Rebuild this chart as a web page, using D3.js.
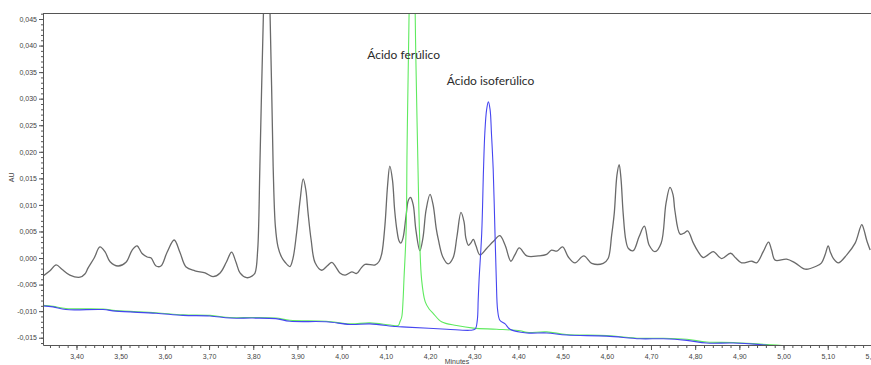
<!DOCTYPE html>
<html>
<head>
<meta charset="utf-8">
<script src="https://cdn.jsdelivr.net/npm/d3@7"></script>
<style>
  body { margin: 0; background: #fff; }
  svg { display: block; }
</style>
</head>
<body>
<div id="chart"></div>
<script>
// muestra (negro), patrón ácido ferúlico (verde), patrón ácido isoferúlico (azul)
// [minutos, AU]
const muestra = [
  [3.324, -0.0034], [3.340, -0.0024], [3.354, -0.0013], [3.367, -0.0021], [3.385, -0.0032],
  [3.408, -0.0036], [3.419, -0.0030], [3.426, -0.0019], [3.440, 0.0000], [3.453, 0.0021],
  [3.465, 0.0011], [3.476, -0.0007], [3.494, -0.0015], [3.512, -0.0008], [3.526, 0.0015],
  [3.537, 0.0023], [3.548, 0.0009], [3.560, 0.0002], [3.569, 0.0000], [3.580, -0.0015],
  [3.591, -0.0015], [3.605, 0.0011], [3.621, 0.0034], [3.634, 0.0011], [3.648, -0.0017],
  [3.668, -0.0024], [3.691, -0.0028], [3.709, -0.0035], [3.725, -0.0028], [3.739, -0.0008],
  [3.751, 0.0011], [3.761, -0.0008], [3.770, -0.0028], [3.785, -0.0037], [3.797, -0.0034],
  [3.804, -0.0028], [3.810, 0.0015], [3.815, 0.0173], [3.823, 0.0460], [3.830, 0.0620],
  [3.838, 0.0460], [3.845, 0.0173], [3.850, 0.0060], [3.856, 0.0021], [3.864, 0.0002],
  [3.872, -0.0008], [3.883, -0.0016], [3.890, 0.0000], [3.898, 0.0047], [3.906, 0.0109],
  [3.913, 0.0149], [3.919, 0.0128], [3.924, 0.0085], [3.931, 0.0034], [3.940, -0.0009],
  [3.955, -0.0023], [3.967, -0.0015], [3.978, -0.0008], [3.987, -0.0017], [3.996, -0.0028],
  [4.008, -0.0032], [4.023, -0.0026], [4.034, -0.0029], [4.044, -0.0019], [4.053, -0.0012],
  [4.076, -0.0013], [4.085, -0.0006], [4.091, 0.0009], [4.098, 0.0062], [4.104, 0.0137],
  [4.109, 0.0173], [4.115, 0.0147], [4.120, 0.0090], [4.125, 0.0053], [4.130, 0.0032],
  [4.134, 0.0028], [4.139, 0.0038], [4.146, 0.0081], [4.151, 0.0109], [4.156, 0.0114],
  [4.162, 0.0100], [4.168, 0.0053], [4.177, 0.0014], [4.184, 0.0038], [4.191, 0.0090],
  [4.200, 0.0120], [4.207, 0.0100], [4.214, 0.0056], [4.219, 0.0034], [4.229, 0.0002],
  [4.241, -0.0011], [4.252, 0.0000], [4.261, 0.0041], [4.270, 0.0086], [4.277, 0.0068],
  [4.281, 0.0038], [4.287, 0.0024], [4.292, 0.0028], [4.298, 0.0035], [4.304, 0.0023],
  [4.313, 0.0006], [4.328, 0.0018], [4.343, 0.0031], [4.358, 0.0042], [4.370, 0.0024],
  [4.383, -0.0006], [4.392, 0.0006], [4.402, 0.0019], [4.419, 0.0004], [4.445, 0.0004],
  [4.464, 0.0007], [4.475, 0.0015], [4.487, 0.0013], [4.500, 0.0021], [4.513, 0.0002],
  [4.528, -0.0009], [4.548, 0.0004], [4.566, -0.0010], [4.592, -0.0010], [4.603, -0.0001],
  [4.611, 0.0043], [4.617, 0.0085], [4.623, 0.0156], [4.628, 0.0176], [4.632, 0.0151],
  [4.637, 0.0085], [4.643, 0.0034], [4.649, 0.0018], [4.660, 0.0014], [4.673, 0.0040],
  [4.685, 0.0060], [4.696, 0.0024], [4.709, 0.0012], [4.723, 0.0028], [4.734, 0.0103],
  [4.743, 0.0133], [4.750, 0.0119], [4.754, 0.0090], [4.766, 0.0045], [4.775, 0.0047],
  [4.783, 0.0051], [4.796, 0.0028], [4.806, 0.0013], [4.818, 0.0001], [4.829, 0.0006],
  [4.841, 0.0012], [4.860, -0.0001], [4.880, 0.0009], [4.892, 0.0000], [4.905, -0.0009],
  [4.928, -0.0006], [4.939, -0.0009], [4.954, 0.0012], [4.966, 0.0030], [4.973, 0.0015],
  [4.981, -0.0004], [5.007, -0.0002], [5.026, -0.0009], [5.049, -0.0021], [5.075, -0.0015],
  [5.086, -0.0009], [5.094, 0.0006], [5.101, 0.0023], [5.106, 0.0011], [5.113, -0.0001],
  [5.124, -0.0009], [5.143, 0.0006], [5.162, 0.0028], [5.177, 0.0063], [5.182, 0.0053],
  [5.188, 0.0034], [5.196, 0.0015]
]

const ferulico = [
  [3.324, -0.0089], [3.347, -0.0091], [3.376, -0.0095], [3.460, -0.0096], [3.489, -0.0099],
  [3.580, -0.0103], [3.641, -0.0107], [3.702, -0.0108], [3.747, -0.0112], [3.799, -0.0112],
  [3.851, -0.0113], [3.883, -0.0117], [3.965, -0.0119], [4.019, -0.0124], [4.064, -0.0122],
  [4.110, -0.0126], [4.128, -0.0127], [4.132, -0.0120], [4.136, -0.0111], [4.139, -0.0079],
  [4.141, -0.0041], [4.146, 0.0053], [4.148, 0.0203], [4.151, 0.0373], [4.160, 0.0750],
  [4.168, 0.0373], [4.172, 0.0203], [4.176, 0.0053], [4.181, -0.0041], [4.189, -0.0082],
  [4.198, -0.0096], [4.207, -0.0104], [4.226, -0.0120], [4.260, -0.0127], [4.298, -0.0132],
  [4.351, -0.0134], [4.404, -0.0137], [4.419, -0.0140], [4.464, -0.0139], [4.509, -0.0144],
  [4.600, -0.0146], [4.675, -0.0151], [4.728, -0.0151], [4.781, -0.0153], [4.826, -0.0158],
  [4.886, -0.0159], [4.947, -0.0162], [4.985, -0.0164], [5.015, -0.0166]
]

const isoferulico = [
  [3.324, -0.0090], [3.347, -0.0092], [3.376, -0.0097], [3.460, -0.0097], [3.489, -0.0100],
  [3.580, -0.0104], [3.641, -0.0108], [3.702, -0.0109], [3.747, -0.0113], [3.799, -0.0113],
  [3.851, -0.0114], [3.883, -0.0119], [3.965, -0.0120], [4.019, -0.0125], [4.064, -0.0124],
  [4.123, -0.0129], [4.147, -0.0130], [4.238, -0.0134], [4.290, -0.0136], [4.302, -0.0134],
  [4.307, -0.0117], [4.309, -0.0079], [4.311, -0.0041], [4.317, 0.0047], [4.321, 0.0166],
  [4.324, 0.0235], [4.328, 0.0279], [4.332, 0.0294], [4.336, 0.0279], [4.339, 0.0235],
  [4.343, 0.0166], [4.347, 0.0047], [4.350, -0.0041], [4.353, -0.0098], [4.358, -0.0117],
  [4.370, -0.0124], [4.381, -0.0134], [4.419, -0.0141], [4.464, -0.0141], [4.509, -0.0145],
  [4.600, -0.0147], [4.675, -0.0152], [4.728, -0.0152], [4.781, -0.0155], [4.826, -0.0160],
  [4.886, -0.0160], [4.947, -0.0163], [4.981, -0.0166]
]

const xTicks = d3.range(3.4, 5.2001, 0.1)
const xMinorTicks = d3.range(3.34, 5.2001, 0.02)
const yTicks = d3.range(-0.015, 0.04501, 0.005)
const yMinorTicks = d3.range(-0.016, 0.04601, 0.001)

const labels = [
  { text: 'Ácido ferúlico', t: 4.058, v: 0.0374 },
  { text: 'Ácido isoferúlico', t: 4.238, v: 0.0325 }
]

const width = 871
const height = 365
const margin = { top: 13, right: 0, bottom: 20, left: 43 }

const locale = d3.formatLocale({ decimal: ',', thousands: '.', grouping: [3], currency: ['', ''], minus: '-' })
const fmt3 = locale.format('.3f')
const fmt2 = locale.format('.2f')

const x = d3.scaleLinear()
  .domain([3.3242, 5.1979])
  .range([margin.left, width - margin.right])

const y = d3.scaleLinear()
  .domain([-0.01637, 0.04613])
  .range([height - margin.bottom, margin.top])

const svg = d3.select('#chart')
  .append('svg')
  .attr('width', width)
  .attr('height', height)

svg.append('defs').append('clipPath')
  .attr('id', 'plot-clip')
  .append('rect')
  .attr('x', margin.left)
  .attr('y', margin.top)
  .attr('width', width - margin.left - margin.right)
  .attr('height', height - margin.top - margin.bottom)

const line = d3.line()
  .x(d => x(d[0]))
  .y(d => y(d[1]))
  .curve(d3.curveCatmullRom.alpha(0.5))

const traces = svg.append('g').attr('clip-path', 'url(#plot-clip)').attr('fill', 'none')

traces.append('path')
  .datum(muestra)
  .attr('d', line)
  .attr('stroke', '#6a6a6a')
  .attr('stroke-width', 1.3)

traces.append('path')
  .datum(ferulico)
  .attr('d', line)
  .attr('stroke', '#5fea5f')
  .attr('stroke-width', 1.1)

traces.append('path')
  .datum(isoferulico)
  .attr('d', line)
  .attr('stroke', '#4646f0')
  .attr('stroke-width', 1.1)

// top frame line
svg.append('line')
  .attr('x1', margin.left)
  .attr('x2', width)
  .attr('y1', margin.top + 0.5)
  .attr('y2', margin.top + 0.5)
  .attr('stroke', '#555')

const styleAxis = g => {
  g.select('.domain').attr('stroke', '#555')
  g.selectAll('.tick line').attr('stroke', '#555')
  g.selectAll('.tick text')
    .attr('fill', '#444')
    .style('font-family', '"Liberation Sans", Arial, sans-serif')
    .style('font-size', '7px')
}

svg.append('g')
  .attr('transform', `translate(0, ${height - margin.bottom})`)
  .call(d3.axisBottom(x).tickValues(xMinorTicks).tickSize(3).tickFormat(''))
  .call(g => g.select('.domain').remove())
  .call(styleAxis)

svg.append('g')
  .attr('transform', `translate(0, ${height - margin.bottom})`)
  .call(d3.axisBottom(x).tickValues(xTicks).tickSize(5).tickSizeOuter(0).tickPadding(4).tickFormat(fmt2))
  .call(styleAxis)

svg.append('g')
  .attr('transform', `translate(${margin.left}, 0)`)
  .call(d3.axisLeft(y).tickValues(yMinorTicks).tickSize(2).tickFormat(''))
  .call(g => g.select('.domain').remove())
  .call(styleAxis)

svg.append('g')
  .attr('transform', `translate(${margin.left}, 0)`)
  .call(d3.axisLeft(y).tickValues(yTicks).tickSize(4).tickSizeOuter(0).tickPadding(2).tickFormat(fmt3))
  .call(styleAxis)

svg.append('text')
  .attr('transform', `translate(14, ${y(0.0152)}) rotate(-90)`)
  .attr('text-anchor', 'middle')
  .attr('fill', '#444')
  .style('font-family', '"Liberation Sans", Arial, sans-serif')
  .style('font-size', '7px')
  .text('AU')

svg.append('text')
  .attr('x', (margin.left + width) / 2)
  .attr('y', height - 1)
  .attr('text-anchor', 'middle')
  .attr('fill', '#444')
  .style('font-family', '"Liberation Sans", Arial, sans-serif')
  .style('font-size', '7px')
  .text('Minutes')

svg.append('g')
  .selectAll('text')
  .data(labels)
  .join('text')
  .attr('x', d => x(d.t))
  .attr('y', d => y(d.v))
  .attr('fill', '#2b2b2b')
  .style('font-family', 'Lato, "Open Sans", sans-serif')
  .style('font-size', '12px')
  .text(d => d.text)
</script>
</body>
</html>
